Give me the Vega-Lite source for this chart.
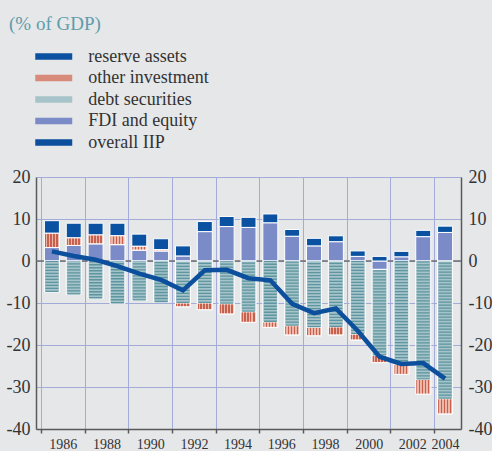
{
  "$schema": "https://vega.github.io/schema/vega-lite/v6.json",
  "width": 425,
  "height": 252,
  "autosize": {"type": "none"},
  "padding": {"left": 36, "top": 177, "right": 31, "bottom": 22},
  "background": "#e6e7e9",
  "config": {"view": {"stroke": null}, "font": "Liberation Serif"},
  "title": {"text": "(% of GDP)", "anchor": "start", "orient": "top", "font": "Liberation Serif", "fontSize": 19, "fontWeight": "normal", "color": "#5f9cab", "dx": 3, "offset": 13},
  "datasets": {
    "bars": [
      {"year": 1986, "series": "FDI and equity", "value": 3.2}, {"year": 1986, "series": "other investment", "value": 3.4}, {"year": 1986, "series": "reserve assets", "value": 3.0}, {"year": 1986, "series": "debt securities", "value": -7.4},
      {"year": 1987, "series": "FDI and equity", "value": 3.7}, {"year": 1987, "series": "other investment", "value": 1.8}, {"year": 1987, "series": "reserve assets", "value": 3.5}, {"year": 1987, "series": "debt securities", "value": -8.0},
      {"year": 1988, "series": "FDI and equity", "value": 4.1}, {"year": 1988, "series": "other investment", "value": 2.1}, {"year": 1988, "series": "reserve assets", "value": 2.8}, {"year": 1988, "series": "debt securities", "value": -8.9},
      {"year": 1989, "series": "FDI and equity", "value": 3.9}, {"year": 1989, "series": "other investment", "value": 2.1}, {"year": 1989, "series": "reserve assets", "value": 3.0}, {"year": 1989, "series": "debt securities", "value": -10.1},
      {"year": 1990, "series": "FDI and equity", "value": 2.6}, {"year": 1990, "series": "other investment", "value": 0.9}, {"year": 1990, "series": "reserve assets", "value": 2.9}, {"year": 1990, "series": "debt securities", "value": -9.4},
      {"year": 1991, "series": "FDI and equity", "value": 2.4}, {"year": 1991, "series": "other investment", "value": 0.3}, {"year": 1991, "series": "reserve assets", "value": 2.6}, {"year": 1991, "series": "debt securities", "value": -9.8},
      {"year": 1992, "series": "FDI and equity", "value": 1.2}, {"year": 1992, "series": "other investment", "value": -0.9}, {"year": 1992, "series": "reserve assets", "value": 2.4}, {"year": 1992, "series": "debt securities", "value": -10.0},
      {"year": 1993, "series": "FDI and equity", "value": 7.0}, {"year": 1993, "series": "other investment", "value": -1.6}, {"year": 1993, "series": "reserve assets", "value": 2.4}, {"year": 1993, "series": "debt securities", "value": -10.0},
      {"year": 1994, "series": "FDI and equity", "value": 8.2}, {"year": 1994, "series": "other investment", "value": -2.4}, {"year": 1994, "series": "reserve assets", "value": 2.4}, {"year": 1994, "series": "debt securities", "value": -10.2},
      {"year": 1995, "series": "FDI and equity", "value": 8.0}, {"year": 1995, "series": "other investment", "value": -2.5}, {"year": 1995, "series": "reserve assets", "value": 2.4}, {"year": 1995, "series": "debt securities", "value": -12.1},
      {"year": 1996, "series": "FDI and equity", "value": 9.1}, {"year": 1996, "series": "other investment", "value": -1.3}, {"year": 1996, "series": "reserve assets", "value": 2.1}, {"year": 1996, "series": "debt securities", "value": -14.5},
      {"year": 1997, "series": "FDI and equity", "value": 5.9}, {"year": 1997, "series": "other investment", "value": -2.2}, {"year": 1997, "series": "reserve assets", "value": 1.6}, {"year": 1997, "series": "debt securities", "value": -15.4},
      {"year": 1998, "series": "FDI and equity", "value": 3.6}, {"year": 1998, "series": "other investment", "value": -2.0}, {"year": 1998, "series": "reserve assets", "value": 1.8}, {"year": 1998, "series": "debt securities", "value": -15.8},
      {"year": 1999, "series": "FDI and equity", "value": 4.6}, {"year": 1999, "series": "other investment", "value": -1.9}, {"year": 1999, "series": "reserve assets", "value": 1.4}, {"year": 1999, "series": "debt securities", "value": -15.7},
      {"year": 2000, "series": "FDI and equity", "value": 1.1}, {"year": 2000, "series": "other investment", "value": -1.4}, {"year": 2000, "series": "reserve assets", "value": 1.3}, {"year": 2000, "series": "debt securities", "value": -17.4},
      {"year": 2001, "series": "FDI and equity", "value": -2.0}, {"year": 2001, "series": "other investment", "value": -1.7}, {"year": 2001, "series": "reserve assets", "value": 1.1}, {"year": 2001, "series": "debt securities", "value": -20.5},
      {"year": 2002, "series": "FDI and equity", "value": 1.0}, {"year": 2002, "series": "other investment", "value": -2.4}, {"year": 2002, "series": "reserve assets", "value": 1.3}, {"year": 2002, "series": "debt securities", "value": -24.6},
      {"year": 2003, "series": "FDI and equity", "value": 5.8}, {"year": 2003, "series": "other investment", "value": -3.5}, {"year": 2003, "series": "reserve assets", "value": 1.5}, {"year": 2003, "series": "debt securities", "value": -28.2},
      {"year": 2004, "series": "FDI and equity", "value": 6.8}, {"year": 2004, "series": "other investment", "value": -3.6}, {"year": 2004, "series": "reserve assets", "value": 1.5}, {"year": 2004, "series": "debt securities", "value": -32.8}
    ],
    "iip": [
      {"year": 1986, "value": 2.3}, {"year": 1987, "value": 1.2}, {"year": 1988, "value": 0.3}, {"year": 1989, "value": -1.2},
      {"year": 1990, "value": -3.0}, {"year": 1991, "value": -4.5}, {"year": 1992, "value": -7.0}, {"year": 1993, "value": -2.2},
      {"year": 1994, "value": -2.1}, {"year": 1995, "value": -4.1}, {"year": 1996, "value": -4.6}, {"year": 1997, "value": -10.2},
      {"year": 1998, "value": -12.4}, {"year": 1999, "value": -11.3}, {"year": 2000, "value": -16.6}, {"year": 2001, "value": -22.8},
      {"year": 2002, "value": -24.5}, {"year": 2003, "value": -24.3}, {"year": 2004, "value": -28.0}
    ],
    "zero": [{"v": 0}]
  },
  "layer": [
    {
      "data": {"name": "zero"},
      "mark": {"type": "rule", "color": "#6d6e70", "strokeWidth": 1.5},
      "encoding": {"y": {"field": "v", "type": "quantitative", "axis": null}}
    },
    {
      "data": {"name": "bars"},
      "transform": [{"calculate": "indexof(['FDI and equity','debt securities','other investment','reserve assets'], datum.series)", "as": "ord"}],
      "mark": {"type": "bar", "size": 15, "stroke": "white", "strokeWidth": 1},
      "encoding": {
        "x": {"field": "year", "type": "quantitative", "scale": {"domain": [1985.5, 2004.5], "nice": false, "zero": false},
          "axis": {"orient": "bottom", "values": [1985.5, 1987.5, 1989.5, 1991.5, 1993.5, 1995.5, 1997.5, 1999.5, 2001.5, 2003.5], "labels": false, "grid": true, "gridColor": "#a3acd8", "gridWidth": 1, "ticks": true, "tickSize": 4, "tickColor": "#58595b", "tickWidth": 1.5, "domainColor": "#58595b", "domainWidth": 1.5, "title": null}},
        "y": {"field": "value", "type": "quantitative", "stack": "zero", "scale": {"domain": [-40, 20], "nice": false},
          "axis": {"orient": "left", "values": [-40, -30, -20, -10, 0, 10, 20], "labelExpr": "'' + datum.value", "grid": true, "gridColor": "#a3acd8", "gridWidth": 1, "ticks": false, "domainColor": "#58595b", "domainWidth": 1.5, "labelFont": "Liberation Serif", "labelFontSize": 18, "labelColor": "#333333", "labelPadding": 6, "title": null}},
        "color": {"field": "series", "type": "nominal",
          "scale": {"domain": ["reserve assets", "other investment", "debt securities", "FDI and equity", "overall IIP"],
            "range": ["#0a52a1", "#d98b7b", "#a5c3c9", "#7b8bc8", "#0b4f9d"]},
          "legend": {"orient": "none", "legendX": 8.25, "legendY": -130, "title": null, "symbolType": "M-2,-0.36H2V0.36H-2Z", "symbolSize": 342, "symbolStrokeWidth": 0, "symbolOpacity": 1, "labelFont": "Liberation Serif", "labelFontSize": 18, "labelColor": "#333333", "labelOffset": 25, "rowPadding": 2.5, "padding": 0}},
        "order": {"field": "ord", "type": "quantitative"}
      }
    },
    {
      "data": {"name": "bars"},
      "transform": [{"calculate": "indexof(['FDI and equity','debt securities','other investment','reserve assets'], datum.series)", "as": "ord"}],
      "mark": {"type": "bar", "size": 15, "stroke": "white", "strokeWidth": 1,
        "fill": {"gradient": "linear", "x1": 0, "y1": 0, "x2": 1, "y2": 0, "stops": [
          {"offset": 0, "color": "#c8604e"}, {"offset": 0.1, "color": "#c8604e"}, {"offset": 0.1, "color": "#ecb6a8"}, {"offset": 0.2, "color": "#ecb6a8"},
          {"offset": 0.2, "color": "#c8604e"}, {"offset": 0.3, "color": "#c8604e"}, {"offset": 0.3, "color": "#ecb6a8"}, {"offset": 0.4, "color": "#ecb6a8"},
          {"offset": 0.4, "color": "#c8604e"}, {"offset": 0.5, "color": "#c8604e"}, {"offset": 0.5, "color": "#ecb6a8"}, {"offset": 0.6, "color": "#ecb6a8"},
          {"offset": 0.6, "color": "#c8604e"}, {"offset": 0.7, "color": "#c8604e"}, {"offset": 0.7, "color": "#ecb6a8"}, {"offset": 0.8, "color": "#ecb6a8"},
          {"offset": 0.8, "color": "#c8604e"}, {"offset": 0.9, "color": "#c8604e"}, {"offset": 0.9, "color": "#ecb6a8"}, {"offset": 1, "color": "#ecb6a8"}]}},
      "encoding": {
        "x": {"field": "year", "type": "quantitative", "axis": null},
        "y": {"field": "value", "type": "quantitative", "stack": "zero", "axis": null},
        "detail": {"field": "series", "type": "nominal"},
        "order": {"field": "ord", "type": "quantitative"},
        "opacity": {"condition": {"test": "datum.series === 'other investment'", "value": 1}, "value": 0}
      }
    },
    {
      "data": {"name": "bars"},
      "transform": [{"calculate": "indexof(['FDI and equity','debt securities','other investment','reserve assets'], datum.series)", "as": "ord"}],
      "mark": {"type": "rule", "strokeWidth": 13, "strokeDash": [1.3, 1.7], "strokeCap": "butt"},
      "encoding": {
        "x": {"field": "year", "type": "quantitative", "axis": null},
        "y": {"field": "value", "type": "quantitative", "stack": "zero", "axis": null},
        "detail": {"field": "series", "type": "nominal"},
        "order": {"field": "ord", "type": "quantitative"},
        "stroke": {"condition": {"test": "datum.series === 'debt securities'", "value": "#5d95a0"}, "value": "transparent"}
      }
    },
    {
      "data": {"name": "iip"},
      "mark": {"type": "line", "color": "#0b4f9d", "strokeWidth": 4.5},
      "encoding": {
        "x": {"field": "year", "type": "quantitative",
          "axis": {"orient": "bottom", "values": [1986.5, 1988.5, 1990.5, 1992.5, 1994.5, 1996.5, 1998.5, 2000.5, 2002.5, 2004], "labelExpr": "datum.value == 2004 ? '2004' : '' + floor(datum.value)", "labelFlush": false, "labelOverlap": false, "grid": false, "ticks": false, "domain": false, "labelFont": "Liberation Serif", "labelFontSize": 14, "labelColor": "#333333", "labelPadding": 8, "title": null}},
        "y": {"field": "value", "type": "quantitative",
          "axis": {"orient": "right", "values": [-40, -30, -20, -10, 0, 10, 20], "labelExpr": "'' + datum.value", "grid": false, "ticks": false, "domainColor": "#58595b", "domainWidth": 1.5, "labelFont": "Liberation Serif", "labelFontSize": 18, "labelColor": "#333333", "labelPadding": 7, "title": null}}
      }
    }
  ],
  "resolve": {"axis": {"x": "independent", "y": "independent"}}
}
